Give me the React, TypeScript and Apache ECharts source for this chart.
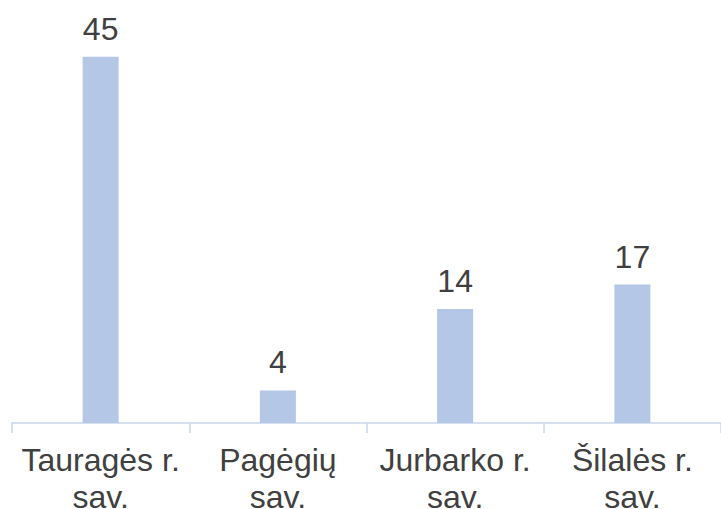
import React, { useEffect, useRef } from "react";
import * as echarts from "echarts";

const categories = ["Tauragės r.\nsav.", "Pagėgių\nsav.", "Jurbarko r.\nsav.", "Šilalės r.\nsav."];
const values = [45, 4, 14, 17];

export default function App() {
  const ref = useRef<HTMLDivElement>(null);
  useEffect(() => {
    if (!ref.current) return;
    const chart = echarts.init(ref.current, null, { renderer: "svg" });
    chart.setOption({
      animation: false,
      backgroundColor: "#ffffff",
      textStyle: { fontFamily: "Liberation Sans, Arial, sans-serif" },
      grid: { left: 12, right: 0, top: 16, bottom: 86, containLabel: false, outerBoundsMode: "none" },
      xAxis: {
        type: "category",
        data: categories,
        axisLine: { lineStyle: { color: "#c7d6ec", width: 1.5 } },
        axisTick: { show: true, length: 10, lineStyle: { color: "#c7d6ec", width: 1.5 } },
        axisLabel: {
          color: "#404040",
          fontSize: 32,
          lineHeight: 37,
          margin: 18,
          fontFamily: "Liberation Sans, Arial, sans-serif",
          interval: 0,
        },
      },
      yAxis: {
        type: "value",
        min: 0,
        max: 50,
        show: false,
        splitLine: { show: false },
      },
      series: [
        {
          type: "bar",
          data: values,
          barWidth: 36,
          itemStyle: { color: "#b4c7e7" },
          label: {
            show: true,
            position: "top",
            distance: 12,
            color: "#404040",
            fontSize: 32,
            fontFamily: "Liberation Sans, Arial, sans-serif",
          },
        },
      ],
    });
    return () => chart.dispose();
  }, []);
  return <div ref={ref} style={{ width: 721, height: 509, position: "absolute", left: 0, top: 0 }} />;
}
